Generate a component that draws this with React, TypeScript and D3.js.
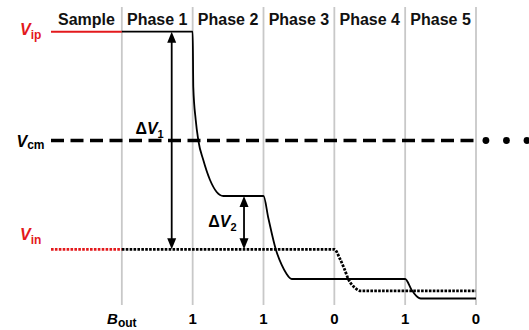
import React from "react";
import * as d3 from "d3";

// Phase columns and bit decisions
const PHASES = ["Sample", "Phase 1", "Phase 2", "Phase 3", "Phase 4", "Phase 5"];
const BOUNDARIES = [0, 1, 2, 3, 4, 5];
const BITS = ["1", "1", "0", "1", "0"];

// Voltage traces (t = phase time, v = normalised volts)
const VP_INPUT: [number, number][] = [[-1, 1], [0, 1]];
const VN_INPUT: [number, number][] = [[-1, -1], [0, -1]];
const VP_TRACE: [number, number][] = [
  [0, 1], [1, 1], [1.009, 0.49], [1.043, 0.19], [1.08, 0], [1.15, -0.18],
  [1.245, -0.363], [1.339, -0.473], [1.433, -0.51], [2, -0.51],
  [2.068, -0.712], [2.172, -0.997], [2.257, -1.144], [2.318, -1.218],
  [2.398, -1.273], [4, -1.273], [4.092, -1.374], [4.153, -1.425],
  [4.22, -1.452], [5, -1.452],
];
const VN_TRACE: [number, number][] = [
  [0, -1], [3, -1], [3.08, -1.089], [3.137, -1.172], [3.197, -1.273],
  [3.292, -1.354], [3.37, -1.382], [5, -1.382],
];
const VCM: [number, number][] = [[-1, 0], [5, 0]];
const ELLIPSIS_T = [5.14, 5.43, 5.72];

// Delta arrows: [t, vTop, vBottom]
const DV1: [number, number, number] = [0.704, 1, -1];
const DV2: [number, number, number] = [1.725, -0.51, -1];

const W = 529;
const H = 330;
const RED = "#e3191c";
const FONT = "'Liberation Sans', Arial, sans-serif";

export default function App() {
  const x = d3.scaleLinear().domain([-1, 5]).range([51, 476]);
  const y = d3.scaleLinear().domain([-1, 1]).range([249.3, 31.7]);

  const straight = d3.line<[number, number]>().x(d => x(d[0])).y(d => y(d[1]));
  const smooth = d3
    .line<[number, number]>()
    .x(d => x(d[0]))
    .y(d => y(d[1]))
    .curve(d3.curveMonotoneX);

  const gridTop = 7;
  const gridBottom = 305;

  const arrow = (a: [number, number, number]) => {
    const ax = x(a[0]);
    const y1 = y(a[1]);
    const y2 = y(a[2]);
    const hl = 11;
    const hw = 4.5;
    return (
      <g>
        <line x1={ax} x2={ax} y1={y1 + hl - 1} y2={y2 - hl + 1} stroke="#000" strokeWidth={1.8} />
        <path d={`M${ax},${y1}L${ax - hw},${y1 + hl}L${ax + hw},${y1 + hl}Z`} fill="#000" />
        <path d={`M${ax},${y2}L${ax - hw},${y2 - hl}L${ax + hw},${y2 - hl}Z`} fill="#000" />
      </g>
    );
  };

  return (
    <svg
      width={W}
      height={H}
      style={{ position: "absolute", left: 0, top: 0, background: "#fff" }}
      fontFamily={FONT}
    >
      {/* phase separators */}
      {BOUNDARIES.map(b => (
        <line key={b} x1={x(b)} x2={x(b)} y1={gridTop} y2={gridBottom} stroke="#c8c8c8" strokeWidth={1.8} />
      ))}

      {/* phase headers */}
      {PHASES.map((p, i) => (
        <text key={p} x={x(i - 0.5)} y={24.5} textAnchor="middle" fontSize={16} fontWeight="bold" fill="#111">
          {p}
        </text>
      ))}

      {/* common mode */}
      <path d={straight(VCM) || ""} fill="none" stroke="#000" strokeWidth={3.5} strokeDasharray="13 6.5" />
      {ELLIPSIS_T.map(t => (
        <circle key={t} cx={x(t)} cy={y(0)} r={3.4} fill="#000" />
      ))}

      {/* inputs during sampling */}
      <path d={straight(VP_INPUT) || ""} fill="none" stroke={RED} strokeWidth={2} />
      <path d={straight(VN_INPUT) || ""} fill="none" stroke={RED} strokeWidth={2.8} strokeDasharray="2.6 1.3" />

      {/* DAC traces */}
      <path d={smooth(VN_TRACE) || ""} fill="none" stroke="#000" strokeWidth={2.8} strokeDasharray="2.6 1.3" />
      <path d={smooth(VP_TRACE) || ""} fill="none" stroke="#000" strokeWidth={1.8} />

      {/* delta arrows */}
      {arrow(DV1)}
      {arrow(DV2)}

      <text x={x(DV1[0]) - 8} y={y(0) - 6.5} textAnchor="end" fontSize={16} fontWeight="bold">
        Δ<tspan fontStyle="italic">V</tspan>
        <tspan fontSize={11} dy={4}>1</tspan>
      </text>
      <text x={x(DV2[0]) - 7.5} y={(y(DV2[1]) + y(DV2[2])) / 2 + 4} textAnchor="end" fontSize={16} fontWeight="bold">
        Δ<tspan fontStyle="italic">V</tspan>
        <tspan fontSize={11} dy={4}>2</tspan>
      </text>

      {/* level labels */}
      <text x={20} y={y(1) + 3.5} fontSize={16} fontWeight="bold" fill={RED}>
        <tspan fontStyle="italic">V</tspan>
        <tspan fontSize={12} dy={4}>ip</tspan>
      </text>
      <text x={16.5} y={y(0) + 6} fontSize={16} fontWeight="bold" fill="#000">
        <tspan fontStyle="italic">V</tspan>
        <tspan fontSize={12} dy={2}>cm</tspan>
      </text>
      <text x={20} y={y(-1) - 9.3} fontSize={16} fontWeight="bold" fill={RED}>
        <tspan fontStyle="italic">V</tspan>
        <tspan fontSize={12} dy={3.5}>in</tspan>
      </text>

      {/* output bits */}
      <text x={x(0)} y={324} textAnchor="middle" fontSize={15} fontWeight="bold">
        <tspan fontStyle="italic">B</tspan>
        <tspan fontSize={12} dy={3}>out</tspan>
      </text>
      {BITS.map((b, i) => (
        <text key={i} x={x(i + 1)} y={324} textAnchor="middle" fontSize={15} fontWeight="bold">
          {b}
        </text>
      ))}
    </svg>
  );
}
